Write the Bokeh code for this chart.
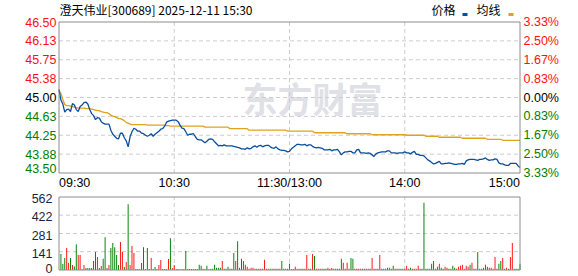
from bokeh.plotting import figure
from bokeh.models import Range1d
from bokeh.embed import file_html
from bokeh.resources import INLINE
from bokeh.core.properties import value

# ---------------- data ----------------
title_text = "澄天伟业[300689] 2025-12-11 15:30"
prev_close = 45.00

price = [
    45.16, 44.95, 44.87, 44.71, 44.76, 44.77, 44.72, 44.88, 44.85, 44.76,
    44.72, 44.82, 44.85, 44.90, 44.91, 44.87, 44.76, 44.68, 44.64, 44.56,
    44.60, 44.59, 44.52, 44.49, 44.47, 44.47, 44.47, 44.35, 44.27, 44.23,
    44.19, 44.18, 44.29, 44.29, 44.20, 44.14, 44.02, 44.22, 44.32, 44.39,
    44.37, 44.33, 44.33, 44.29, 44.28, 44.25, 44.23, 44.25, 44.28, 44.23,
    44.27, 44.30, 44.33, 44.37, 44.38, 44.43, 44.51, 44.53, 44.54, 44.55,
    44.55, 44.55, 44.52, 44.45, 44.39, 44.38, 44.32, 44.25, 44.27, 44.27,
    44.28, 44.22, 44.17, 44.16, 44.16, 44.13, 44.10, 44.13, 44.17, 44.18,
    44.17, 44.12, 44.08, 44.04, 44.05, 44.04, 44.06, 44.04, 44.04, 44.04,
    44.04, 44.03, 44.02, 44.01, 44.00, 43.98, 43.98, 43.97, 44.00, 43.98,
    43.99, 44.02, 44.04, 44.01, 44.04, 44.05, 44.02, 44.04, 44.05, 44.05,
    44.02, 44.00, 43.99, 44.02, 43.98, 43.96, 43.95, 43.95, 43.94, 43.92,
    43.93, 43.98, 44.01, 44.04, 44.07, 44.07, 44.06, 44.06, 44.07, 44.04,
    44.06, 44.06, 44.03, 44.01, 44.00, 44.01, 44.00, 43.99, 43.96, 43.96,
    43.96, 43.97, 43.94, 43.96, 43.96, 43.97, 43.92, 43.86, 43.90, 43.92,
    43.92, 43.93, 43.93, 43.90, 43.90, 43.96, 43.97, 43.90, 43.90, 43.90,
    43.89, 43.90, 43.89, 43.86, 43.83, 43.88, 43.90, 43.91, 43.92, 43.92,
    43.92, 43.94, 43.94, 43.90, 43.90, 43.90, 43.89, 43.90, 43.90, 43.90,
    43.92, 43.90, 43.90, 43.88, 43.91, 43.93, 43.87, 43.87, 43.85, 43.85,
    43.84, 43.80, 43.76, 43.74, 43.71, 43.68, 43.69, 43.71, 43.73, 43.68,
    43.68, 43.69, 43.69, 43.70, 43.69, 43.68, 43.67, 43.67, 43.68, 43.68,
    43.69, 43.67, 43.74, 43.76, 43.77, 43.77, 43.77, 43.76, 43.75, 43.77,
    43.77, 43.78, 43.80, 43.77, 43.75, 43.76, 43.76, 43.78, 43.77, 43.70,
    43.68, 43.68, 43.66, 43.65, 43.65, 43.69, 43.69, 43.69, 43.69, 43.64,
    43.61,
]

avg_price = [
    45.13, 45.08, 44.96, 44.86, 44.84, 44.84, 44.83, 44.82, 44.81, 44.80,
    44.79, 44.79, 44.79, 44.79, 44.78, 44.78, 44.78, 44.77, 44.76, 44.75,
    44.74, 44.74, 44.72, 44.71, 44.70, 44.70, 44.68, 44.65, 44.63, 44.62,
    44.60, 44.58, 44.58, 44.56, 44.54, 44.50, 44.49, 44.47, 44.46, 44.46,
    44.46, 44.46, 44.46, 44.46, 44.46, 44.46, 44.45, 44.45, 44.45, 44.45,
    44.45, 44.45, 44.45, 44.45, 44.45, 44.45, 44.44, 44.44, 44.43, 44.43,
    44.43, 44.43, 44.43, 44.43, 44.43, 44.43, 44.43, 44.43, 44.43, 44.43,
    44.43, 44.43, 44.43, 44.43, 44.43, 44.43, 44.41, 44.41, 44.41, 44.41,
    44.41, 44.41, 44.41, 44.41, 44.41, 44.41, 44.41, 44.41, 44.41, 44.38,
    44.38, 44.38, 44.38, 44.38, 44.38, 44.38, 44.38, 44.38, 44.38, 44.35,
    44.35, 44.35, 44.35, 44.35, 44.35, 44.35, 44.35, 44.35, 44.35, 44.35,
    44.35, 44.35, 44.35, 44.35, 44.35, 44.35, 44.35, 44.35, 44.35, 44.33,
    44.33, 44.33, 44.33, 44.33, 44.33, 44.33, 44.33, 44.33, 44.33, 44.33,
    44.33, 44.33, 44.33, 44.30, 44.30, 44.30, 44.30, 44.30, 44.30, 44.30,
    44.30, 44.30, 44.30, 44.30, 44.30, 44.30, 44.30, 44.30, 44.30, 44.30,
    44.28, 44.28, 44.28, 44.28, 44.28, 44.28, 44.28, 44.28, 44.28, 44.28,
    44.28, 44.28, 44.28, 44.26, 44.26, 44.26, 44.26, 44.26, 44.26, 44.26,
    44.26, 44.26, 44.26, 44.26, 44.26, 44.26, 44.26, 44.26, 44.26, 44.26,
    44.26, 44.25, 44.25, 44.25, 44.25, 44.25, 44.25, 44.25, 44.25, 44.25,
    44.25, 44.23, 44.23, 44.23, 44.23, 44.23, 44.23, 44.23, 44.21, 44.21,
    44.21, 44.21, 44.21, 44.21, 44.21, 44.21, 44.21, 44.21, 44.21, 44.21,
    44.19, 44.19, 44.19, 44.19, 44.19, 44.19, 44.19, 44.19, 44.19, 44.19,
    44.19, 44.19, 44.19, 44.17, 44.17, 44.17, 44.17, 44.17, 44.17, 44.17,
    44.17, 44.15, 44.15, 44.15, 44.15, 44.15, 44.15, 44.15, 44.15, 44.15,
    44.15,
]

volume = [
    0, 123, 46, 92, 169, 56, 92, 38, 26, 199,
    115, 115, 8, 38, 15, 15, 15, 15, 69, 138,
    100, 15, 31, 87, 253, 15, 38, 169, 207, 176,
    115, 38, 215, 138, 23, 61, 506, 38, 184, 130,
    8, 8, 8, 54, 176, 8, 169, 8, 92, 8,
    23, 8, 38, 77, 8, 8, 8, 84, 245, 15,
    38, 8, 8, 5, 5, 8, 146, 8, 8, 8,
    8, 8, 8, 40, 33, 10, 8, 33, 5, 8,
    10, 40, 18, 18, 18, 70, 10, 10, 25, 10,
    10, 131, 70, 222, 18, 86, 70, 40, 25, 10,
    18, 18, 10, 10, 10, 10, 10, 78, 10, 10,
    10, 10, 10, 10, 10, 10, 70, 10, 10, 10,
    48, 8, 8, 25, 10, 10, 10, 10, 10, 116,
    10, 10, 123, 108, 10, 10, 10, 10, 10, 10,
    18, 10, 15, 10, 10, 10, 10, 86, 55, 10,
    55, 10, 93, 86, 10, 10, 10, 10, 10, 10,
    10, 10, 10, 93, 10, 10, 10, 116, 10, 10,
    10, 18, 18, 10, 33, 10, 10, 10, 10, 10,
    10, 33, 10, 18, 10, 10, 10, 33, 10, 10,
    517, 10, 10, 10, 48, 70, 10, 25, 48, 18,
    10, 25, 18, 10, 10, 33, 18, 10, 25, 33,
    40, 10, 33, 25, 40, 55, 10, 10, 139, 10,
    10, 18, 40, 25, 18, 18, 10, 101, 10, 48,
    70, 93, 10, 18, 10, 101, 207, 10, 10, 10,
    48,
]

# R = up minute (red), G = down minute (green)
volume_dir = (
    "GGGGRRGRGG" "RRRRGGGGGG" "RGRGGGRGGG" "GGRRGRGRRR" "GGGGGRGGRR"
    "GRRRRGGRGR" "RGGGGGGRGR" "RGGGGRGGRG" "GGGGGRGGGG" "RGRGGGGRRR"
    "RRRGRRGRRR" "GRRGRRGRRR" "RRRRRRGGRR" "RGRGRRRGGG" "RGRGGGGGRG"
    "RRGGGRRRGR" "RRGRRGRRGR" "GRRGGRRRGG" "RRRGRRRRRG" "GGGGGGRRRG"
    "GRRGRGGRRR" "RRRRGRRRGR" "RRGGRRRRRG" "GRGRGRRGGG" "G"
)

price_ticks = [46.50, 46.125, 45.75, 45.375, 45.00, 44.625, 44.25, 43.875, 43.50]
price_labels = ["46.50", "46.13", "45.75", "45.38", "45.00", "44.63", "44.25", "43.88", "43.50"]
pct_labels = ["3.33%", "2.50%", "1.67%", "0.83%", "0.00%", "0.83%", "1.67%", "2.50%", "3.33%"]
time_ticks = [0, 60, 120, 180, 240]
time_labels = ["09:30", "10:30", "11:30/13:00", "14:00", "15:00"]
vol_ticks = [0, 141, 281, 422, 562]
vol_labels = ["0", "141", "281", "422", "562"]
legend_names = ["价格", "均线"]
watermark = "东方财富"

# ---------------- geometry (page pixels) ----------------
W, H = 578, 276
CL, CR = 58.5, 519.5        # chart frame left / right
CT, CB = 21.5, 172.5        # price frame top / bottom
VT, VB = 196.5, 269.5       # volume frame top / bottom
XMIN, XMAX = time_ticks[0], time_ticks[-1]
PMIN, PMAX = price_ticks[-1], price_ticks[0]
VMIN, VMAX = vol_ticks[0], vol_ticks[-1]


def px_x(px):
    return XMIN + (px - CL) / (CR - CL) * (XMAX - XMIN)


def px_y(py):
    return PMAX - (py - CT) / (CB - CT) * (PMAX - PMIN)


def px_v(py):
    return VMIN + (VB - py) / (VB - VT) * (VMAX - VMIN)


RED, GREEN, BLACK = "#ff1010", "#008000", "#000000"
BLUE_LINE, ORANGE_LINE = "#0a4f9e", "#e0a21c"
GRID = "#cccccc"
FRAME = "#8c8c8c"
NUM_FONT = value("Liberation Sans")
CJK_FONT = value("Noto Sans CJK SC")
FS = "12.5px"

p = figure(width=W, height=H,
           x_range=Range1d(px_x(0), px_x(W)), y_range=Range1d(px_y(H), px_y(0)),
           x_axis_type=None, y_axis_type=None, output_backend="svg", toolbar_location=None,
           min_border=0, min_border_left=0, min_border_right=0, min_border_top=0, min_border_bottom=0)
p.extra_y_ranges = {"vol": Range1d(px_v(H), px_v(0))}
p.outline_line_color = None
p.background_fill_color = "white"
p.border_fill_color = "white"
p.xgrid.visible = False
p.ygrid.visible = False

# watermark
p.text(x=[px_x(242)], y=[px_y(97)], text=[watermark], text_font=CJK_FONT, text_font_size="35px",
       text_font_style="bold", text_color="#e0e0e7", text_align="left", text_baseline="middle")

# grids
inner_t = time_ticks[1:-1]
p.segment(x0=inner_t, x1=inner_t, y0=[PMIN] * len(inner_t), y1=[PMAX] * len(inner_t),
          line_color=GRID, line_dash="4 3", line_width=1)
inner_p = price_ticks[1:-1]
p.segment(x0=[XMIN] * len(inner_p), x1=[XMAX] * len(inner_p), y0=inner_p, y1=inner_p,
          line_color=GRID, line_dash="4 3", line_width=1)
p.segment(x0=inner_t, x1=inner_t, y0=[VMIN] * len(inner_t), y1=[VMAX] * len(inner_t),
          line_color=GRID, line_dash="4 3", line_width=1, y_range_name="vol")
inner_v = vol_ticks[1:-1]
p.segment(x0=[XMIN] * len(inner_v), x1=[XMAX] * len(inner_v), y0=inner_v, y1=inner_v,
          line_color=GRID, line_dash="4 3", line_width=1, y_range_name="vol")

minutes = list(range(len(price)))

# volume bars
bar_colors = [RED if d == "R" else GREEN for d in volume_dir]
p.vbar(x=minutes, top=volume, bottom=0, width=0.5, fill_color=bar_colors, line_color=None,
       y_range_name="vol")

# price lines
p.line(minutes, avg_price, line_color=ORANGE_LINE, line_width=1.3)
p.line(minutes, price, line_color=BLUE_LINE, line_width=1.3)

# frames
p.quad(left=[XMIN], right=[XMAX], bottom=[PMIN], top=[PMAX], fill_color=None,
       line_color=FRAME, line_width=1)
p.quad(left=[XMIN], right=[XMAX], bottom=[VMIN], top=[VMAX], fill_color=None,
       line_color=FRAME, line_width=1, y_range_name="vol")

# price tick labels (left) and percent labels (right)
lab_colors = [RED if t > prev_close else (BLACK if t == prev_close else GREEN) for t in price_ticks]
left_off = [0] * (len(price_ticks) - 1) + [-5]
p.text(x=[px_x(56)] * len(price_ticks), y=price_ticks, text=price_labels, y_offset=left_off,
       text_align="right", text_baseline="middle", text_font=NUM_FONT, text_font_size=FS,
       text_color=lab_colors)
p.text(x=[px_x(523)] * len(price_ticks), y=price_ticks, text=pct_labels,
       text_align="left", text_baseline="middle", text_font=NUM_FONT, text_font_size=FS,
       text_color=lab_colors)

# time labels
xy = px_y(182.5)
p.text(x=time_ticks[:1], y=[xy], text=time_labels[:1], text_align="left", text_baseline="middle",
       text_font=NUM_FONT, text_font_size=FS, text_color=BLACK)
p.text(x=time_ticks[1:-1], y=[xy] * 3, text=time_labels[1:-1], text_align="center",
       text_baseline="middle", text_font=NUM_FONT, text_font_size=FS, text_color=BLACK)
p.text(x=time_ticks[-1:], y=[xy], text=time_labels[-1:], text_align="right", text_baseline="middle",
       text_font=NUM_FONT, text_font_size=FS, text_color=BLACK)

# volume tick labels
vol_off = [-2, 1.5, 1.5, 1.5, 1.5]
p.text(x=[px_x(52)] * len(vol_ticks), y=vol_ticks, text=vol_labels, y_offset=vol_off,
       text_align="right", text_baseline="middle", text_font=NUM_FONT, text_font_size=FS,
       text_color="#1a1f3c", y_range_name="vol")

# title and legend
p.text(x=[px_x(59)], y=[px_y(9)], text=[title_text], text_align="left", text_baseline="middle",
       text_font=CJK_FONT, text_font_size="12px", text_color=BLACK)
p.text(x=[px_x(431), px_x(476)], y=[px_y(9), px_y(9)], text=legend_names, text_align="left",
       text_baseline="middle", text_font=CJK_FONT, text_font_size="12px", text_color=BLACK)
p.rect(x=[px_x(464.5), px_x(510.5)], y=[px_y(14), px_y(14)], width=5, height=3,
       width_units="screen", height_units="screen", fill_color=[BLUE_LINE, ORANGE_LINE],
       line_color=None)

open("out.html", "w").write(file_html(p, INLINE))
